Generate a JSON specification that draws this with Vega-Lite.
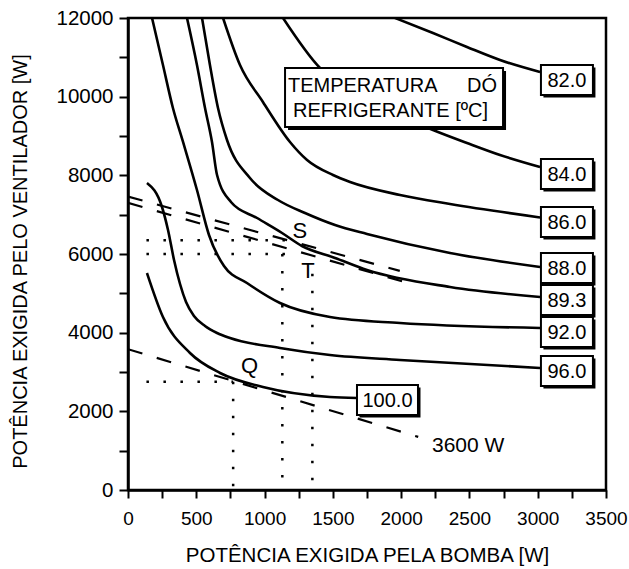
{
  "$schema": "https://vega.github.io/schema/vega-lite/v6.json",
  "width": 478,
  "height": 472,
  "autosize": {"type": "none"},
  "padding": {"left": 128, "top": 18, "right": 23, "bottom": 79},
  "background": "white",
  "config": {"view": {"stroke": "black", "strokeWidth": 2.5}},
  "datasets": {
    "dotted": [
      {"seg": "h1", "x": 135, "y": 6350}, {"seg": "h1", "x": 1150, "y": 6350},
      {"seg": "h2", "x": 135, "y": 6000}, {"seg": "h2", "x": 1150, "y": 6000},
      {"seg": "v1", "x": 1130, "y": 6000}, {"seg": "v1", "x": 1130, "y": 0},
      {"seg": "v2", "x": 1350, "y": 5500}, {"seg": "v2", "x": 1350, "y": 0},
      {"seg": "h3", "x": 135, "y": 2750}, {"seg": "h3", "x": 770, "y": 2750},
      {"seg": "v3", "x": 770, "y": 2750}, {"seg": "v3", "x": 770, "y": 0}
    ],
    "dashed": [
      {"seg": "w3600", "x": 0, "y": 3580}, {"seg": "w3600", "x": 2125, "y": 1350},
      {"seg": "up", "x": 0, "y": 7460}, {"seg": "up", "x": 1990, "y": 5570},
      {"seg": "low", "x": 0, "y": 7300}, {"seg": "low", "x": 2065, "y": 5250}
    ],
    "curves": [
      {"t": "82.0", "x": 1955, "y": 12000}, {"t": "82.0", "x": 2233, "y": 11619}, {"t": "82.0", "x": 2482, "y": 11263}, {"t": "82.0", "x": 2724, "y": 10932}, {"t": "82.0", "x": 3017, "y": 10627},
      {"t": "84.0", "x": 1135, "y": 12000}, {"t": "84.0", "x": 1406, "y": 10729}, {"t": "84.0", "x": 1699, "y": 10042}, {"t": "84.0", "x": 1992, "y": 9509}, {"t": "84.0", "x": 2233, "y": 9153}, {"t": "84.0", "x": 2482, "y": 8822}, {"t": "84.0", "x": 2724, "y": 8517}, {"t": "84.0", "x": 3017, "y": 8212},
      {"t": "86.0", "x": 696, "y": 12000}, {"t": "86.0", "x": 820, "y": 10805}, {"t": "86.0", "x": 988, "y": 9865}, {"t": "86.0", "x": 1186, "y": 8848}, {"t": "86.0", "x": 1311, "y": 8390}, {"t": "86.0", "x": 1501, "y": 8008}, {"t": "86.0", "x": 1626, "y": 7830}, {"t": "86.0", "x": 1992, "y": 7500}, {"t": "86.0", "x": 2358, "y": 7271}, {"t": "86.0", "x": 3017, "y": 6930},
      {"t": "88.0", "x": 542, "y": 12000}, {"t": "88.0", "x": 600, "y": 10805}, {"t": "88.0", "x": 659, "y": 9712}, {"t": "88.0", "x": 725, "y": 8898}, {"t": "88.0", "x": 893, "y": 7932}, {"t": "88.0", "x": 1098, "y": 7373}, {"t": "88.0", "x": 1296, "y": 7042}, {"t": "88.0", "x": 1516, "y": 6737}, {"t": "88.0", "x": 1750, "y": 6509}, {"t": "88.0", "x": 2358, "y": 6025}, {"t": "88.0", "x": 3017, "y": 5670},
      {"t": "89.3", "x": 432, "y": 12000}, {"t": "89.3", "x": 505, "y": 10805}, {"t": "89.3", "x": 564, "y": 9712}, {"t": "89.3", "x": 615, "y": 8848}, {"t": "89.3", "x": 652, "y": 8009}, {"t": "89.3", "x": 754, "y": 7322}, {"t": "89.3", "x": 945, "y": 6915}, {"t": "89.3", "x": 1128, "y": 6534}, {"t": "89.3", "x": 1274, "y": 6203}, {"t": "89.3", "x": 1516, "y": 5898}, {"t": "89.3", "x": 1750, "y": 5593}, {"t": "89.3", "x": 2358, "y": 5161}, {"t": "89.3", "x": 3017, "y": 4907},
      {"t": "92.0", "x": 176, "y": 12000}, {"t": "92.0", "x": 256, "y": 10805}, {"t": "92.0", "x": 329, "y": 9712}, {"t": "92.0", "x": 403, "y": 8848}, {"t": "92.0", "x": 505, "y": 7627}, {"t": "92.0", "x": 593, "y": 6483}, {"t": "92.0", "x": 703, "y": 5695}, {"t": "92.0", "x": 871, "y": 5263}, {"t": "92.0", "x": 1113, "y": 4754}, {"t": "92.0", "x": 1479, "y": 4398}, {"t": "92.0", "x": 1992, "y": 4246}, {"t": "92.0", "x": 3017, "y": 4119},
      {"t": "96.0", "x": 139, "y": 7805}, {"t": "96.0", "x": 249, "y": 7195}, {"t": "96.0", "x": 293, "y": 6610}, {"t": "96.0", "x": 337, "y": 5848}, {"t": "96.0", "x": 381, "y": 5237}, {"t": "96.0", "x": 425, "y": 4780}, {"t": "96.0", "x": 483, "y": 4424}, {"t": "96.0", "x": 564, "y": 4169}, {"t": "96.0", "x": 652, "y": 3992}, {"t": "96.0", "x": 747, "y": 3864}, {"t": "96.0", "x": 1113, "y": 3610}, {"t": "96.0", "x": 1479, "y": 3432}, {"t": "96.0", "x": 1992, "y": 3305}, {"t": "96.0", "x": 3017, "y": 3102},
      {"t": "100.0", "x": 139, "y": 5517}, {"t": "100.0", "x": 256, "y": 4398}, {"t": "100.0", "x": 454, "y": 3483}, {"t": "100.0", "x": 674, "y": 2975}, {"t": "100.0", "x": 988, "y": 2619}, {"t": "100.0", "x": 1479, "y": 2364}, {"t": "100.0", "x": 1677, "y": 2339}
    ],
    "labels": [
      {"t": "82.0", "x": 3214, "y": 10422}, {"t": "84.0", "x": 3214, "y": 8033}, {"t": "86.0", "x": 3214, "y": 6813},
      {"t": "88.0", "x": 3214, "y": 5643}, {"t": "89.3", "x": 3214, "y": 4830}, {"t": "92.0", "x": 3214, "y": 4016}, {"t": "96.0", "x": 3214, "y": 3025}
    ],
    "lab100": [{"t": "100.0", "x": 1900, "y": 2288}],
    "legendbox": [{"x": 1948, "y": 9977}],
    "legendtext": [
      {"t": "TEMPERATURA", "x": 1171, "y": 10117}, {"t": "DÓ", "x": 2482, "y": 10117}, {"t": "REFRIGERANTE [ºC]", "x": 1208, "y": 9482}
    ],
    "points": [{"t": "S", "x": 1259, "y": 6584}, {"t": "T", "x": 1318, "y": 5567}, {"t": "Q", "x": 890, "y": 3152}],
    "w3600": [{"t": "3600 W", "x": 2226, "y": 966}]
  },
  "encoding": {
    "x": {
      "field": "x", "type": "quantitative",
      "scale": {"domain": [0, 3500], "nice": false, "zero": false},
      "axis": {
        "title": "POTÊNCIA EXIGIDA PELA BOMBA [W]",
        "values": [0, 250, 500, 750, 1000, 1250, 1500, 1750, 2000, 2250, 2500, 2750, 3000, 3250, 3500],
        "format": "d",
        "labelExpr": "datum.value % 500 === 0 ? datum.label : ''",
        "grid": false, "domainColor": "black", "domainWidth": 2.5,
        "tickColor": "black", "tickWidth": 2, "tickSize": 8,
        "labelFont": "Liberation Sans", "labelFontSize": 19, "labelColor": "black", "labelPadding": 11,
        "labelOverlap": false, "labelFlush": false,
        "titleFont": "Liberation Sans", "titleFontSize": 20.5, "titleFontWeight": "normal", "titleColor": "black",
        "titleY": 71, "titleBaseline": "alphabetic"
      }
    },
    "y": {
      "field": "y", "type": "quantitative",
      "scale": {"domain": [0, 12000], "nice": false, "zero": false},
      "axis": {
        "title": "POTÊNCIA EXIGIDA PELO VENTILADOR [W]",
        "values": [0, 1000, 2000, 3000, 4000, 5000, 6000, 7000, 8000, 9000, 10000, 11000, 12000],
        "format": "d",
        "labelExpr": "datum.value % 2000 === 0 ? datum.label : ''",
        "grid": false, "domainColor": "black", "domainWidth": 2.5,
        "tickColor": "black", "tickWidth": 2, "tickSize": 9,
        "labelFont": "Liberation Sans", "labelFontSize": 20.5, "labelColor": "black", "labelPadding": 6,
        "labelOverlap": false, "labelFlush": false,
        "titleFont": "Liberation Sans", "titleFontSize": 20, "titleFontWeight": "normal", "titleColor": "black",
        "titleX": -102, "titleY": 243, "titleAngle": 270, "titleBaseline": "alphabetic", "titleAlign": "center"
      }
    }
  },
  "layer": [
    {
      "data": {"name": "dotted"},
      "mark": {"type": "line", "color": "black", "strokeWidth": 2.5, "strokeDash": [2.5, 14.5], "clip": true},
      "encoding": {"detail": {"field": "seg"}}
    },
    {
      "data": {"name": "dashed"},
      "mark": {"type": "line", "color": "black", "strokeWidth": 2.2, "strokeDash": [15, 15], "clip": true},
      "encoding": {"detail": {"field": "seg"}}
    },
    {
      "data": {"name": "curves"},
      "mark": {"type": "line", "color": "black", "strokeWidth": 2.6, "interpolate": "monotone", "clip": true},
      "encoding": {"detail": {"field": "t"}}
    },
    {
      "data": {"name": "labels"},
      "mark": {"type": "point", "shape": "M-1,-0.577L1,-0.577L1,0.577L-1,0.577Z", "size": 2704, "filled": true, "color": "black", "opacity": 1, "xOffset": 2.5, "yOffset": 2.5}
    },
    {
      "data": {"name": "labels"},
      "mark": {"type": "point", "shape": "M-1,-0.577L1,-0.577L1,0.577L-1,0.577Z", "size": 2704, "fill": "white", "stroke": "black", "strokeWidth": 2, "opacity": 1, "fillOpacity": 1}
    },
    {
      "data": {"name": "labels"},
      "mark": {"type": "text", "font": "Liberation Sans", "fontSize": 20, "color": "black", "align": "center", "baseline": "middle", "dy": 1},
      "encoding": {"text": {"field": "t"}}
    },
    {
      "data": {"name": "lab100"},
      "mark": {"type": "point", "shape": "M-1,-0.492L1,-0.492L1,0.492L-1,0.492Z", "size": 3721, "filled": true, "color": "black", "opacity": 1, "xOffset": 2.5, "yOffset": 2.5}
    },
    {
      "data": {"name": "lab100"},
      "mark": {"type": "point", "shape": "M-1,-0.492L1,-0.492L1,0.492L-1,0.492Z", "size": 3721, "fill": "white", "stroke": "black", "strokeWidth": 2, "opacity": 1, "fillOpacity": 1}
    },
    {
      "data": {"name": "lab100"},
      "mark": {"type": "text", "font": "Liberation Sans", "fontSize": 20, "color": "black", "align": "center", "baseline": "middle", "dy": 1},
      "encoding": {"text": {"field": "t"}}
    },
    {
      "data": {"name": "legendbox"},
      "mark": {"type": "point", "shape": "M-1,-0.2706L1,-0.2706L1,0.2706L-1,0.2706Z", "size": 47524, "filled": true, "color": "black", "opacity": 1, "xOffset": 3, "yOffset": 3}
    },
    {
      "data": {"name": "legendbox"},
      "mark": {"type": "point", "shape": "M-1,-0.2706L1,-0.2706L1,0.2706L-1,0.2706Z", "size": 47524, "fill": "white", "stroke": "black", "strokeWidth": 2, "opacity": 1, "fillOpacity": 1}
    },
    {
      "data": {"name": "legendtext"},
      "mark": {"type": "text", "font": "Liberation Sans", "fontSize": 20, "color": "black", "align": "left", "baseline": "alphabetic"},
      "encoding": {"text": {"field": "t"}}
    },
    {
      "data": {"name": "points"},
      "mark": {"type": "text", "font": "Liberation Sans", "fontSize": 22, "color": "black", "align": "center", "baseline": "middle"},
      "encoding": {"text": {"field": "t"}}
    },
    {
      "data": {"name": "w3600"},
      "mark": {"type": "text", "font": "Liberation Sans", "fontSize": 21, "color": "black", "align": "left", "baseline": "alphabetic"},
      "encoding": {"text": {"field": "t"}}
    }
  ]
}
